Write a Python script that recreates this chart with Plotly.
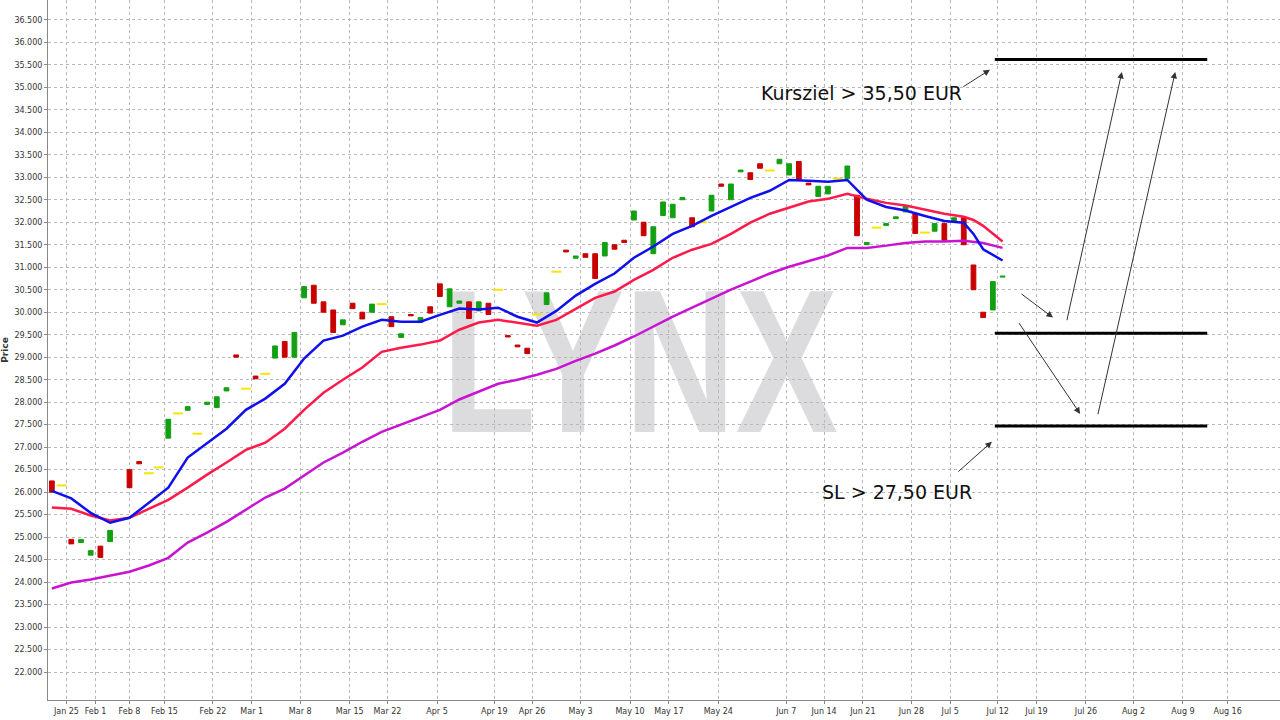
import base64
import plotly.graph_objects as go

# candles: trading-day index, open, close (no visible wicks)
idx = [0, 2, 3, 4, 5, 6, 8, 9, 12, 14, 16, 17, 18, 19, 21, 23, 24, 25, 26, 27, 28, 29, 30, 31, 32, 33,
       35, 36, 37, 38, 39, 40, 41, 42, 43, 44, 45, 47, 48, 49, 51, 53, 54, 55, 56, 57, 58, 59, 60, 61,
       62, 63, 64, 65, 66, 68, 69, 70, 71, 72, 73, 75, 76, 77, 78, 79, 80, 82, 83, 84, 86, 87, 88, 89,
       91, 92, 93, 94, 95, 96, 97, 98]
opens = [26.25, 24.95, 24.88, 24.6, 24.8, 24.9, 26.5, 26.68, 27.2, 27.82, 27.95, 27.88, 28.25, 29.05, 28.58,
         28.98, 29.35, 29.0, 30.32, 30.6, 30.23, 30.05, 29.72, 30.2, 30.0, 30.0,
         29.9, 29.44, 29.95, 29.77, 30.12, 30.63, 30.12, 30.2, 30.23, 30.03, 30.2, 29.48, 29.27, 29.2, 30.17,
         31.38, 31.2, 31.3, 31.3, 31.25, 31.5, 31.6, 32.05, 32.0,
         31.3, 32.15, 32.1, 32.5, 32.1, 32.25, 32.85, 32.5, 33.12, 33.1, 33.3, 33.3, 33.05, 33.35, 32.87, 32.57,
         32.63, 32.97, 32.6, 31.5, 31.93, 32.08, 32.23, 32.2,
         31.8, 31.97, 32.03, 32.1, 31.05, 30.0, 30.05, 30.78]
closes = [26.0, 24.85, 24.95, 24.7, 24.55, 25.15, 26.1, 26.63, 27.62, 27.9, 28.0, 28.12, 28.32, 29.0, 28.52,
          29.25, 29.0, 29.55, 30.57, 30.2, 30.0, 29.55, 29.83, 30.08, 29.85, 30.18,
          29.68, 29.52, 29.92, 29.88, 29.98, 30.35, 30.52, 30.25, 29.86, 30.23, 29.95, 29.45, 29.23, 29.08, 30.43,
          31.34, 31.25, 31.22, 30.75, 31.55, 31.4, 31.55, 32.25, 31.7,
          31.9, 32.45, 32.4, 32.55, 31.9, 32.6, 32.8, 32.85, 33.16, 32.95, 33.2, 33.4, 33.3, 32.95, 32.83, 32.8,
          32.8, 33.25, 31.7, 31.55, 31.97, 32.12, 32.35, 31.75,
          31.97, 31.6, 32.1, 31.5, 30.5, 29.88, 30.68, 30.8]

# doji days (open == close), drawn yellow
doji_idx = [1, 10, 11, 13, 15, 20, 22, 34, 46, 50, 52, 67, 74, 81, 85, 90]
doji_val = [26.15, 26.42, 26.55, 27.75, 27.3, 28.3, 28.63, 30.18, 30.5, 29.95, 30.9, 32.0, 33.15, 32.97, 31.88, 31.77]

# moving averages sampled every second trading day
ma_idx = list(range(0, 95, 2)) + [95, 96, 98]
ma_fast = [26.03, 25.86, 25.54, 25.32, 25.43, 25.77, 26.1, 26.77, 27.1, 27.41, 27.83, 28.08, 28.41, 28.97,
           29.37, 29.48, 29.68, 29.83, 29.79, 29.79, 29.94, 30.08, 30.06, 30.1, 29.9, 29.77, 30.03, 30.37,
           30.63, 30.86, 31.21, 31.46, 31.74, 31.92, 32.14, 32.34, 32.54, 32.7, 32.94, 32.92, 32.9, 32.94,
           32.5, 32.34, 32.26, 32.14, 32.03, 31.99, 31.74, 31.4, 31.15]
ma_mid = [25.66, 25.63, 25.48, 25.37, 25.43, 25.63, 25.83, 26.1, 26.39, 26.66, 26.94, 27.1, 27.41, 27.83,
          28.21, 28.5, 28.77, 29.12, 29.21, 29.28, 29.37, 29.61, 29.77, 29.83, 29.77, 29.7, 29.83, 30.08,
          30.32, 30.46, 30.72, 30.94, 31.21, 31.39, 31.52, 31.74, 31.99, 32.19, 32.32, 32.46, 32.52, 32.63,
          32.52, 32.43, 32.37, 32.28, 32.19, 32.12, 32.05, 31.92, 31.57]
ma_slow = [23.86, 23.99, 24.06, 24.14, 24.23, 24.37, 24.54, 24.88, 25.1, 25.34, 25.61, 25.88, 26.08, 26.37,
           26.66, 26.88, 27.12, 27.34, 27.5, 27.66, 27.83, 28.06, 28.23, 28.41, 28.5, 28.61, 28.74, 28.92,
           29.08, 29.26, 29.46, 29.68, 29.9, 30.1, 30.3, 30.5, 30.68, 30.86, 31.01, 31.14, 31.26, 31.43,
           31.43, 31.48, 31.54, 31.57, 31.57, 31.59, 31.57, 31.54, 31.43]

tick_pos = [1.5, 4.5, 8.0, 11.6, 16.6, 20.6, 25.6, 30.7, 34.6, 39.7, 45.6, 49.5, 54.5, 59.6, 63.6, 68.7,
            75.7, 79.6, 83.6, 88.6, 92.6, 97.5, 101.5, 106.6, 111.5, 116.6, 121.2]
tick_text = ["Jan 25", "Feb 1", "Feb 8", "Feb 15", "Feb 22", "Mar 1", "Mar 8", "Mar 15", "Mar 22", "Apr 5",
             "Apr 19", "Apr 26", "May 3", "May 10", "May 17", "May 24", "Jun 7", "Jun 14", "Jun 21",
             "Jun 28", "Jul 5", "Jul 12", "Jul 19", "Jul 26", "Aug 2", "Aug 9", "Aug 16"]
price_ticks = [22 + 0.5 * k for k in range(30)]

levels = [35.62, 29.53, 27.47]

# watermark as an svg image below the data
svg = ('<svg xmlns="http://www.w3.org/2000/svg" width="400" height="160" viewBox="0 0 400 160">'
       '<text x="200" y="152" text-anchor="middle" textLength="396" lengthAdjust="spacingAndGlyphs" '
       'font-family="Liberation Sans" font-weight="bold" font-size="205" fill="#dcdcdf">LYNX</text></svg>')
svg_uri = "data:image/svg+xml;base64," + base64.b64encode(svg.encode()).decode()

fig = go.Figure()

fig.add_trace(go.Candlestick(x=idx, open=opens, close=closes,
                             high=[max(a, b) for a, b in zip(opens, closes)],
                             low=[min(a, b) for a, b in zip(opens, closes)],
                             increasing=dict(line=dict(color="#12a012", width=1), fillcolor="#12a012"),
                             decreasing=dict(line=dict(color="#c80000", width=1), fillcolor="#c80000"),
                             whiskerwidth=0))
fig.add_trace(go.Scatter(x=doji_idx, y=doji_val, mode="markers",
                         marker=dict(symbol="line-ew", size=7, line=dict(color="#f5e600", width=2))))

fig.add_trace(go.Scatter(x=ma_idx, y=ma_slow, mode="lines", line=dict(color="#c814d2", width=2.5)))
fig.add_trace(go.Scatter(x=ma_idx, y=ma_mid, mode="lines", line=dict(color="#ff1a4a", width=2.5)))
fig.add_trace(go.Scatter(x=ma_idx, y=ma_fast, mode="lines", line=dict(color="#1010ee", width=2.5)))

fig.add_layout_image(dict(source=svg_uri, xref="paper", yref="paper", x=(440 - 48) / 1232, y=1 - 280 / 700,
                          sizex=400 / 1232, sizey=160 / 700, sizing="stretch", layer="below",
                          xanchor="left", yanchor="top"))

for lv in levels:
    fig.add_shape(type="line", x0=97.2, x1=119.1, y0=lv, y1=lv, line=dict(color="black", width=3))

arrows = [(99.8, 30.43, 103.2, 29.88), (104.6, 29.79, 110.3, 35.34),
          (99.6, 29.79, 106.0, 27.74), (107.8, 27.7, 115.8, 35.34),
          (93.8, 34.99, 96.7, 35.39), (93.3, 26.43, 96.9, 27.12)]
for x0, y0, x1, y1 in arrows:
    fig.add_annotation(x=x1, y=y1, ax=x0, ay=y0, xref="x", yref="y", axref="x", ayref="y",
                       text="", showarrow=True, arrowhead=2, arrowsize=1.3, arrowwidth=1,
                       arrowcolor="#333333")

fig.add_annotation(x=83.5, y=34.88, text="Kursziel > 35,50 EUR", showarrow=False,
                   font=dict(size=19, color="#111111", family="DejaVu Sans"))
fig.add_annotation(x=87.1, y=26.01, text="SL > 27,50 EUR", showarrow=False,
                   font=dict(size=19, color="#111111", family="DejaVu Sans"))

fig.update_layout(
    width=1280, height=720, showlegend=False,
    plot_bgcolor="white", paper_bgcolor="white",
    margin=dict(l=48, r=0, t=0, b=20),
    font=dict(family="DejaVu Sans", size=8, color="#333333"),
    xaxis=dict(range=[-0.4, 126.6], tickvals=tick_pos, ticktext=tick_text, rangeslider_visible=False,
               automargin=False,
               showgrid=True, gridcolor="#b8b8b8", griddash="dot", zeroline=False,
               showline=True, linecolor="#888888", ticks="outside", ticklen=3, tickcolor="#888888"),
    yaxis=dict(range=[21.38, 36.94], tickvals=price_ticks, tickformat=".3f", automargin=False,
               showgrid=True, gridcolor="#b8b8b8", griddash="dot", zeroline=False,
               showline=True, linecolor="#888888", ticks="outside", ticklen=3, tickcolor="#888888",
               title=dict(text="<b>Price</b>", standoff=4, font=dict(size=9))),
)

fig.write_html("out.html", config={"displayModeBar": False},
               post_script="document.body.style.margin='0';")
